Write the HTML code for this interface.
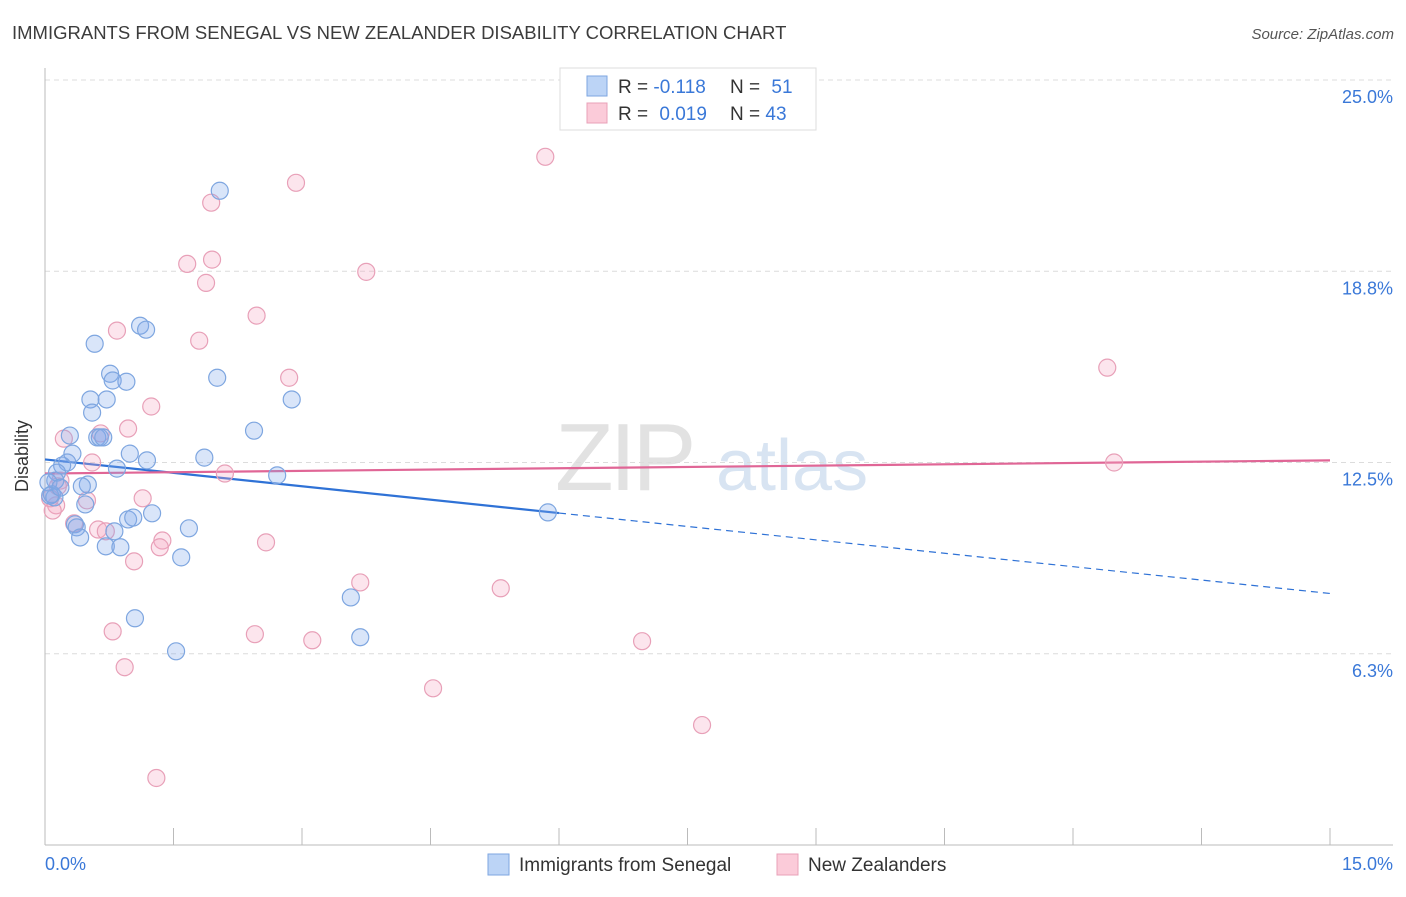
<!DOCTYPE html>
<html><head><meta charset="utf-8"><style>
body{margin:0;background:#fff;font-family:"Liberation Sans",sans-serif;}
svg text{font-family:"Liberation Sans",sans-serif;}
</style></head><body>
<svg id="chart" width="1406" height="892" viewBox="0 0 1406 892" xmlns="http://www.w3.org/2000/svg">
<text x="12" y="39" font-size="18.5" fill="#3c3c3c">IMMIGRANTS FROM SENEGAL VS NEW ZEALANDER DISABILITY CORRELATION CHART</text>
<text x="1394" y="39" font-size="15" fill="#555" font-style="italic" text-anchor="end">Source: ZipAtlas.com</text>
<g><text x="555" y="490" font-size="96" fill="#e2e2e2" font-family="Liberation Serif" letter-spacing="-4">ZIP</text><text x="716" y="490" font-size="72" fill="#d8e4f2">atlas</text></g>
<g id="grid"></g>
<g id="axes"></g>
<g id="lines"></g>
<g id="points"></g>
<text x="28" y="456" font-size="18" fill="#333" transform="rotate(-90 28 456)" text-anchor="middle">Disability</text>
<g>
<rect x="560" y="68" width="256" height="62" fill="#fff" stroke="#ddd"/>
<rect x="587" y="76" width="20" height="20" fill="#bcd4f6" stroke="#7ea6e0"/>
<rect x="587" y="103" width="20" height="20" fill="#fbcbd9" stroke="#e8a0b8"/>
<text x="618" y="93" font-size="19" fill="#333">R = <tspan fill="#3a78d8">-0.118</tspan></text>
<text x="730" y="93" font-size="19" fill="#333">N = <tspan fill="#3a78d8" dx="6">51</tspan></text>
<text x="618" y="120" font-size="19" fill="#333">R = <tspan fill="#3a78d8" dx="6">0.019</tspan></text>
<text x="730" y="120" font-size="19" fill="#333">N = <tspan fill="#3a78d8">43</tspan></text>
</g>
<g>
<rect x="488" y="854" width="21" height="21" fill="#bcd4f6" stroke="#7ea6e0"/>
<text x="519" y="871" font-size="19" fill="#333">Immigrants from Senegal</text>
<rect x="777" y="854" width="21" height="21" fill="#fbcbd9" stroke="#e8a0b8"/>
<text x="808" y="871" font-size="19" fill="#333">New Zealanders</text>
</g>
</svg>
<script>
const yTicks=[25,18.75,12.5,6.25];
const yTickLabels=["25.0%","18.8%","12.5%","6.3%"];
const xTickCount=10;
const xLabels=["0.0%","15.0%"];
const blueX=[2.04,1.11,1.18,0.58,0.76,0.79,0.95,2.01,0.53,0.72,2.88,0.55,2.44,0.29,0.61,0.64,0.68,0.99,0.32,1.86,1.19,0.26,0.20,0.84,0.14,2.71,0.12,0.50,0.43,0.08,0.11,0.47,5.87,1.25,0.97,1.03,0.35,0.37,0.81,1.68,0.41,0.71,0.88,1.59,3.57,1.05,3.68,1.53,0.04,0.06,0.18];
const blueY=[21.38,16.97,16.84,16.38,15.40,15.18,15.14,15.27,14.56,14.56,14.56,14.13,13.54,13.38,13.32,13.32,13.32,12.79,12.79,12.66,12.57,12.50,12.40,12.30,12.17,12.08,11.91,11.78,11.72,11.46,11.36,11.13,10.87,10.84,10.64,10.70,10.48,10.38,10.25,10.35,10.05,9.76,9.73,9.40,8.09,7.41,6.79,6.33,11.85,11.42,11.68];
const pinkX=[5.84,2.93,1.94,1.66,1.95,1.88,3.75,2.47,0.84,1.80,12.40,2.85,1.24,0.97,0.65,0.22,0.55,12.48,2.10,0.18,0.49,1.14,0.13,0.09,0.34,0.62,0.71,1.37,1.34,2.58,1.04,3.68,5.32,0.79,2.45,3.12,6.97,0.93,4.53,7.67,1.30,0.06,0.15];
const pinkY=[22.49,21.64,20.99,18.99,19.13,18.37,18.73,17.30,16.81,16.48,15.60,15.27,14.33,13.61,13.45,13.28,12.50,12.50,12.14,11.91,11.26,11.33,11.10,10.93,10.51,10.31,10.25,9.95,9.73,9.89,9.27,8.58,8.39,6.98,6.89,6.69,6.66,5.81,5.12,3.92,2.19,11.33,11.72];
const blueTrend=[12.6,8.22];
const pinkTrend=[12.14,12.57];
const blueSolidEnd=6.0;
const NS="http://www.w3.org/2000/svg";
const sx=v=>45+v*(1285/15);
const sy=v=>845-v*(765/25);
function mk(tag,attrs,parent){const e=document.createElementNS(NS,tag);for(const k in attrs)e.setAttribute(k,attrs[k]);document.getElementById(parent).appendChild(e);return e;}
yTicks.forEach((t,i)=>{
 const g=mk('line',{x1:45,x2:1393,y1:sy(t),y2:sy(t),stroke:'#dcdcdc','stroke-dasharray':'5,4'},'grid');
 
 
 const l=mk('text',{x:1393,y:sy(t)+23,'font-size':18,fill:'#3a78d8','text-anchor':'end'},'axes');
 l.textContent=yTickLabels[i];
 
 
});
const ax=mk('line',{x1:45,x2:1393,y1:845,y2:845,stroke:'#bbb'},'axes');


const ay=mk('line',{x1:45,x2:45,y1:68,y2:845,stroke:'#bbb'},'axes');


for(let i=1;i<=xTickCount;i++){const x=sx(i*15/xTickCount);
 const t=mk('line',{x1:x,x2:x,y1:828,y2:845,stroke:'#bbb'},'axes');
 
 }
const xl0=mk('text',{x:45,y:870,'font-size':18,fill:'#3a78d8'},'axes');xl0.textContent=xLabels[0];


const xl1=mk('text',{x:1393,y:870,'font-size':18,fill:'#3a78d8','text-anchor':'end'},'axes');xl1.textContent=xLabels[1];


function pts(xs,ys,fill,stroke,name){xs.forEach((x,i)=>{const c=mk('circle',{cx:sx(x),cy:sy(ys[i]),r:8.5,fill:fill,stroke:stroke,'stroke-width':1.2},'points');
 
 });}
pts(pinkX,pinkY,'rgba(246,170,196,0.3)','#e8a0b8','point-new-zealander');
pts(blueX,blueY,'rgba(130,170,235,0.3)','#7ea6e0','point-senegal');
const by=x=>blueTrend[0]+(blueTrend[1]-blueTrend[0])*x/15;
const b1=mk('line',{x1:sx(0),y1:sy(by(0)),x2:sx(blueSolidEnd),y2:sy(by(blueSolidEnd)),stroke:'#2f72d6','stroke-width':2.2},'lines');


const b2=mk('line',{x1:sx(blueSolidEnd),y1:sy(by(blueSolidEnd)),x2:sx(15),y2:sy(by(15)),stroke:'#2f72d6','stroke-width':1.2,'stroke-dasharray':'7,5'},'lines');


const p1=mk('line',{x1:sx(0),y1:sy(pinkTrend[0]),x2:sx(15),y2:sy(pinkTrend[1]),stroke:'#e06696','stroke-width':2.2},'lines');


</script>
</body></html>
